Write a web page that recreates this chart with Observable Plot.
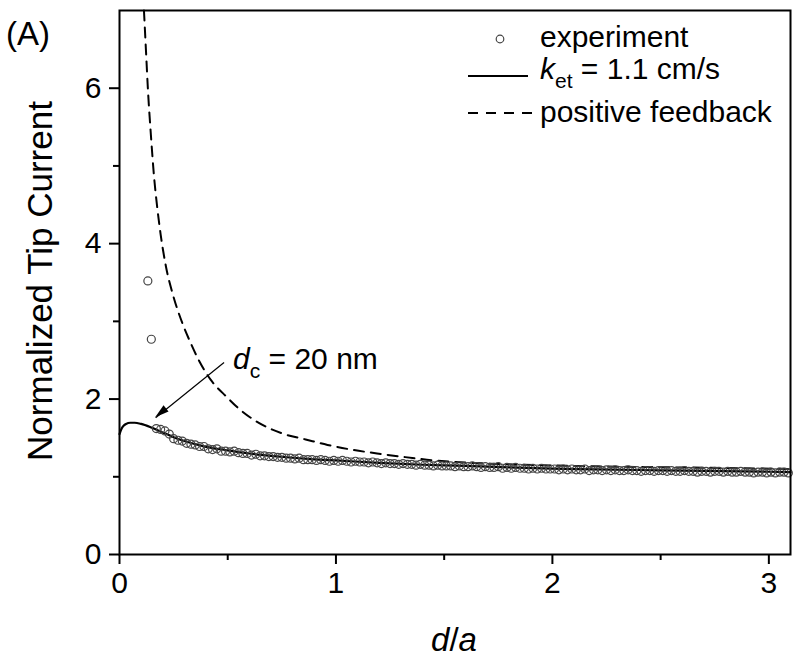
<!DOCTYPE html>
<html><head><meta charset="utf-8">
<script src="https://cdn.jsdelivr.net/npm/d3@7"></script>
<script src="https://cdn.jsdelivr.net/npm/@observablehq/plot@0.6"></script>
<style>
body{margin:0;background:#fff;overflow:hidden}
svg{font-family:"Liberation Sans",Arial,sans-serif}
</style>
</head><body><div id="chart"></div>
<script>
// experiment (d/a, normalized tip current)
const expX = [0.131,0.147,
0.17,0.19,0.21,0.23,0.25,0.27,0.29,0.31,0.33,0.35,0.37,0.39,0.41,0.43,0.45,0.47,0.49,
0.51,0.53,0.55,0.57,0.59,0.61,0.63,0.65,0.67,0.69,0.71,0.73,0.75,0.77,0.79,0.81,0.83,0.85,0.87,0.89,0.91,0.93,0.95,0.97,0.99,
1.01,1.03,1.05,1.07,1.09,1.11,1.13,1.15,1.17,1.19,1.21,1.23,1.25,1.27,1.29,1.31,1.33,1.35,1.37,1.39,
1.41,1.43,1.45,1.47,1.49,1.51,1.53,1.55,1.57,1.59,1.61,1.63,1.65,1.67,1.69,1.71,1.73,1.75,1.77,1.79,
1.81,1.83,1.85,1.87,1.89,1.91,1.93,1.95,1.97,1.99,
2.01,2.03,2.05,2.07,2.09,2.11,2.13,2.15,2.17,2.19,2.21,2.23,2.25,2.27,2.29,2.31,2.33,2.35,2.37,2.39,
2.41,2.43,2.45,2.47,2.49,2.51,2.53,2.55,2.57,2.59,2.61,2.63,2.65,2.67,2.69,2.71,2.73,2.75,2.77,2.79,
2.81,2.83,2.85,2.87,2.89,2.91,2.93,2.95,2.97,2.99,
3.01,3.03,3.05,3.07,3.09];
const expY = [3.52,2.77,
1.62,1.61,1.59,1.55,1.49,1.47,1.46,1.43,1.42,1.41,1.39,1.39,1.36,1.35,1.36,1.33,1.33,
1.32,1.33,1.31,1.30,1.30,1.28,1.29,1.27,1.27,1.26,1.26,1.25,1.25,1.24,1.24,1.23,1.24,1.22,1.22,1.22,1.21,1.22,1.21,1.20,1.21,
1.20,1.21,1.20,1.19,1.20,1.19,1.19,1.18,1.19,1.18,1.17,1.18,1.17,1.17,1.16,1.17,1.16,1.16,1.15,1.16,
1.15,1.15,1.14,1.15,1.14,1.14,1.14,1.13,1.14,1.13,1.13,1.14,1.13,1.12,1.13,1.12,1.12,1.13,1.11,1.12,
1.11,1.12,1.11,1.11,1.10,1.11,1.10,1.11,1.10,1.10,
1.10,1.09,1.10,1.09,1.10,1.09,1.09,1.10,1.08,1.09,1.09,1.08,1.09,1.08,1.09,1.08,1.08,1.09,1.08,1.08,
1.07,1.08,1.08,1.07,1.08,1.08,1.07,1.08,1.07,1.07,1.08,1.07,1.07,1.06,1.07,1.07,1.06,1.07,1.07,1.06,
1.07,1.06,1.06,1.07,1.06,1.06,1.05,1.06,1.06,1.05,
1.06,1.05,1.06,1.06,1.05];

// kinetic fit, k_et = 1.1 cm/s
const fitX = [0,0.01,0.02,0.03,0.05,0.07,0.1,0.15,0.2,0.25,0.3,0.4,0.5,0.6,0.7,0.8,0.9,1.0,1.2,1.4,1.6,1.8,2.0,2.2,2.4,2.6,2.8,3.0,3.1];
const fitY = [1.55,1.62,1.66,1.68,1.695,1.695,1.68,1.63,1.57,1.51,1.46,1.385,1.34,1.30,1.27,1.245,1.225,1.21,1.18,1.155,1.14,1.12,1.105,1.095,1.087,1.08,1.072,1.065,1.06];

// positive feedback
const fbX = [0.113,0.122,0.131,0.145,0.16,0.175,0.19,0.215,0.244,0.29,0.329,0.37,0.421,0.498,0.55,0.606,0.68,0.76,0.86,0.961,1.07,1.19,1.3,1.42,1.55,1.7,1.85,2.0,2.3,2.6,3.1];
const fbY = [7.0,6.5,6.0,5.4,4.85,4.45,4.12,3.7,3.37,2.98,2.72,2.48,2.25,2.02,1.88,1.76,1.64,1.55,1.48,1.41,1.35,1.30,1.26,1.22,1.19,1.17,1.155,1.145,1.13,1.12,1.10];

const xTicks = [0,1,2,3];
const xMinor = [0.5,1.5,2.5];
const yTicks = [0,2,4,6];
const yMinor = [1,3,5];
const xLabel = "d/a";
const yLabel = "Normalized Tip Current";
const panelLabel = "(A)";
const legendLabels = ["experiment", "= 1.1 cm/s", "positive feedback"];
// annotation arrow (data coordinates): from label toward d_c point
const arrowData = [{x1:0.483, y1:2.47, x2:0.167, y2:1.76}];
const noteAnchor = [{x:0.527, y:2.375}];

const FONT = '"Liberation Sans",Arial,sans-serif';
const expData = expX.map((x,i)=>({x, y:expY[i]}));
const fitData = fitX.map((x,i)=>({x, y:fitY[i]}));
const fbData = fbX.map((x,i)=>({x, y:fbY[i]}));
const fmt = d => String(d);

const plot = Plot.plot({
  width:800, height:661,
  marginLeft:119, marginRight:10, marginTop:10, marginBottom:107,
  style:{fontFamily:FONT, background:"#fff", color:"#000"},
  x:{domain:[0,3.1], label:null},
  y:{domain:[0,7], label:null},
  marks:[
    Plot.axisX({ticks:xTicks, tickSize:10, tickPadding:7, tickFormat:fmt, fontSize:30, strokeWidth:2, label:null}),
    Plot.axisX({ticks:xMinor, tickSize:6, tickFormat:()=>"", strokeWidth:2, label:null}),
    Plot.axisY({ticks:yTicks, tickSize:10, tickPadding:8, tickFormat:fmt, fontSize:30, strokeWidth:2, label:null}),
    Plot.axisY({ticks:yMinor, tickSize:6, tickFormat:()=>"", strokeWidth:2, label:null}),
    Plot.line(fbData, {x:"x", y:"y", stroke:"#000", strokeWidth:2, strokeDasharray:"10,7", curve:"monotone-x"}),
    Plot.line(fitData, {x:"x", y:"y", stroke:"#000", strokeWidth:2.2, curve:"monotone-x"}),
    Plot.dot(expData, {x:"x", y:"y", r:4, stroke:"#444", fill:"none", strokeWidth:1.2}),
    Plot.link(arrowData, {x1:"x1", y1:"y1", x2:"x2", y2:"y2", stroke:"#000", strokeWidth:1.2}),
    Plot.frame({stroke:"#000", strokeWidth:2})
  ]
});
document.getElementById("chart").appendChild(plot);

const svg = d3.select(plot);
const sx = plot.scale("x"), sy = plot.scale("y");

// filled arrowhead at link end
{
  const a = arrowData[0];
  const tx = sx.apply(a.x2), ty = sy.apply(a.y2);
  const fx = sx.apply(a.x1), fy = sy.apply(a.y1);
  const L = Math.hypot(tx-fx, ty-fy), ux=(tx-fx)/L, uy=(ty-fy)/L;
  const bx = tx-ux*14, by = ty-uy*14, nx=-uy, ny=ux;
  svg.append("path")
    .attr("d", `M${tx},${ty}L${bx+nx*4},${by+ny*4}L${bx-nx*4},${by-ny*4}Z`)
    .attr("fill","#000");
}

const ann = svg.append("g").attr("font-family",FONT).attr("text-anchor","start").attr("fill","#000");

// annotation text d_c = 20 nm
{
  const p = noteAnchor[0];
  const t = ann.append("text").attr("x", sx.apply(p.x)).attr("y", sy.apply(p.y)).attr("font-size", 30);
  t.append("tspan").attr("font-style","italic").text("d");
  t.append("tspan").attr("font-size",21).attr("dy",9).text("c");
  t.append("tspan").attr("dy",-9).text(" = 20 nm");
}

// axis titles and panel label
ann.append("text").attr("transform","translate(52,281) rotate(-90)")
  .attr("text-anchor","middle").attr("font-size",35).text(yLabel);
{
  const t = ann.append("text").attr("x",454).attr("y",651).attr("text-anchor","middle")
    .attr("font-size",33).attr("font-style","italic");
  const parts = xLabel.split("/");
  t.append("tspan").text(parts[0]);
  t.append("tspan").attr("font-style","normal").text("/");
  t.append("tspan").text(parts[1]);
}
ann.append("text").attr("x",6).attr("y",45).attr("font-size",33).text(panelLabel);

// legend
{
  const g = ann.append("g").attr("font-size",30);
  g.append("circle").attr("cx",500).attr("cy",39).attr("r",3.8).attr("fill","none").attr("stroke","#444").attr("stroke-width",1.2);
  g.append("text").attr("x",540).attr("y",47).text(legendLabels[0]);
  g.append("line").attr("x1",468).attr("x2",528).attr("y1",76).attr("y2",76).attr("stroke","#000").attr("stroke-width",2.2);
  const t = g.append("text").attr("x",540).attr("y",79);
  t.append("tspan").attr("font-style","italic").text("k");
  t.append("tspan").attr("font-size",21).attr("dy",9).text("et");
  t.append("tspan").attr("dy",-9).text(" " + legendLabels[1]);
  g.append("line").attr("x1",468).attr("x2",536).attr("y1",113).attr("y2",113).attr("stroke","#000").attr("stroke-width",2).attr("stroke-dasharray","10,8");
  g.append("text").attr("x",540).attr("y",122).text(legendLabels[2]);
}
</script>
</body></html>
